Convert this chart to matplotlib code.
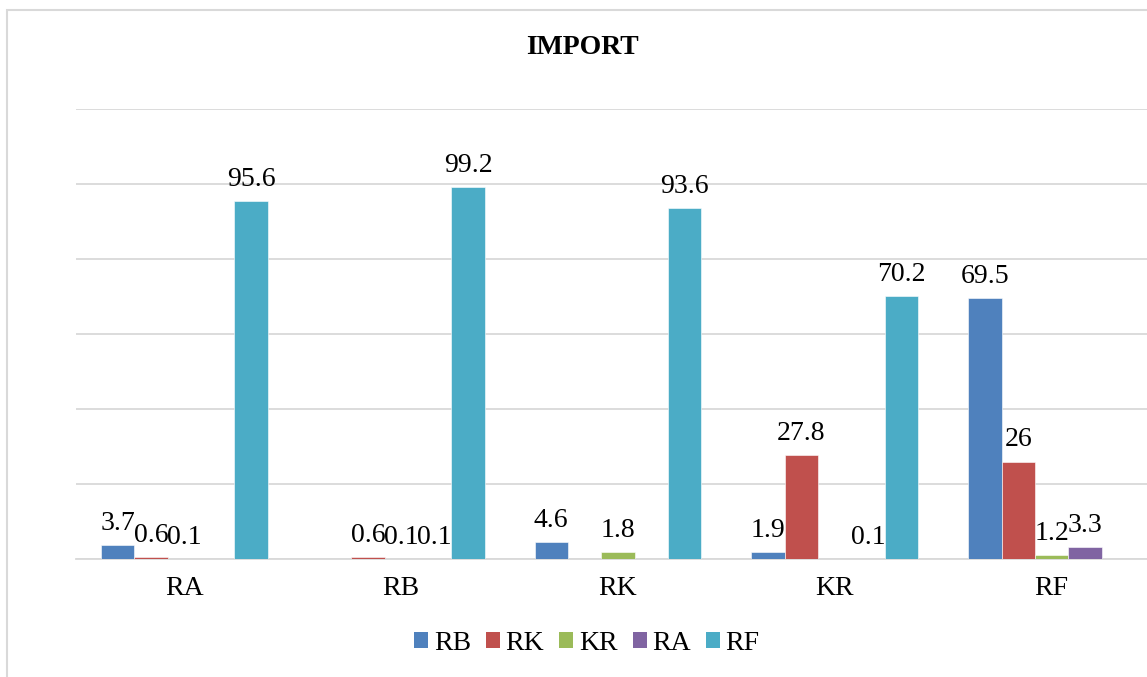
import numpy as np
import matplotlib
matplotlib.use("Agg")
import matplotlib.pyplot as plt
from matplotlib.patches import Patch, Rectangle

plt.rcParams['font.family'] = ['Liberation Serif', 'DejaVu Serif']

title = "IMPORT"
categories = ["RA", "RB", "RK", "KR", "RF"]
series_names = ["RB", "RK", "KR", "RA", "RF"]
nan = np.nan
values_RB = [3.7, nan, 4.6, 1.9, 69.5]
values_RK = [0.6, 0.6, nan, 27.8, 26]
values_KR = [0.1, 0.1, 1.8, nan, 1.2]
values_RA = [nan, 0.1, nan, 0.1, 3.3]
values_RF = [95.6, 99.2, 93.6, 70.2, nan]
series_values = [values_RB, values_RK, values_KR, values_RA, values_RF]
colors = ["#4F81BD", "#C0504D", "#9BBB59", "#8064A2", "#4BACC6"]

W, H = 1147, 677
fig = plt.figure(figsize=(W / 100, H / 100), dpi=100)

# outer chart border
fig.patches.append(Rectangle((7 / W, -0.05), 1.1, 1 - 10 / H + 0.05,
                             transform=fig.transFigure, fill=False,
                             edgecolor="#D9D9D9", linewidth=1.5))

ax = fig.add_axes([76 / W, 1 - 559 / H, (1160 - 76) / W, (559 - 109) / H])
x = np.arange(len(categories))
bw = 0.154
fs = 20
for i, (name, vals, c) in enumerate(zip(series_names, series_values, colors)):
    xs = x + (i - 2) * bw
    ax.bar(xs, vals, width=bw, color=c, label=name, zorder=3,
           edgecolor="white", linewidth=0.4)
    for xi, v in zip(xs, vals):
        if np.isnan(v):
            continue
        ax.annotate(f"{v:g}", (xi, v), xytext=(0, 9), textcoords="offset pixels",
                    ha="center", va="bottom", fontsize=fs, color="black", zorder=4)

ax.set_xlim(-0.5, len(categories) - 0.5)
ax.set_ylim(0, 120)
ax.set_yticks(np.arange(0, 121, 20))
ax.yaxis.grid(True, color="#D9D9D9", linewidth=1.3, zorder=0)
ax.set_axisbelow(True)
ax.set_yticklabels([])
ax.tick_params(axis="y", length=0)
ax.set_xticks(x)
ax.set_xticklabels(categories, fontsize=fs)
ax.tick_params(axis="x", length=0, pad=12)
for s in ["top", "right", "left"]:
    ax.spines[s].set_visible(False)
ax.spines["bottom"].set_color("#D9D9D9")
ax.spines["bottom"].set_linewidth(1.3)

fig.text(582 / W, 1 - 48 / H, title, ha="center", va="center",
         fontsize=fs, fontweight="bold")

handles = [Patch(facecolor=c, edgecolor="none", label=n) for n, c in zip(series_names, colors)]
fig.legend(handles=handles, loc="center", bbox_to_anchor=(587 / W, 1 - 643 / H),
           ncol=5, frameon=False, fontsize=fs, handlelength=0.5, handleheight=0.5,
           handletextpad=0.2, columnspacing=0.55)

fig.savefig("out.png", dpi=100)
